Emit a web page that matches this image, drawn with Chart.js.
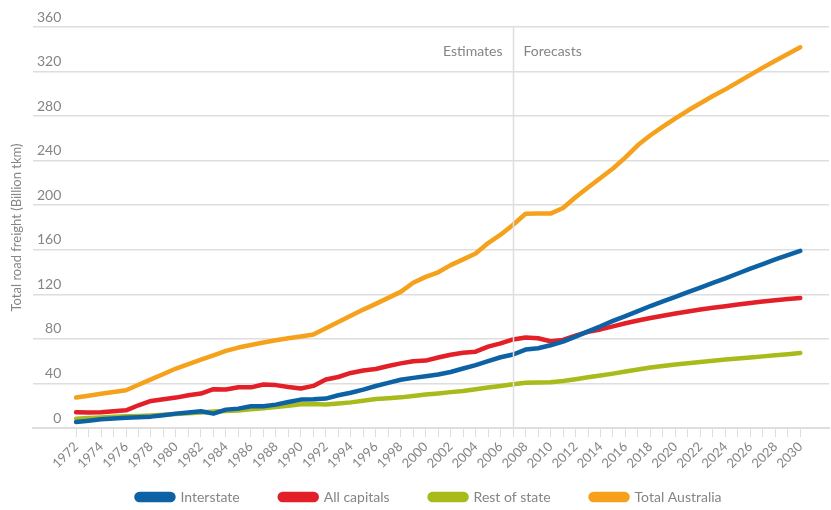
<!DOCTYPE html>
<html>
<head>
<meta charset="utf-8">
<script src="https://cdn.jsdelivr.net/npm/chart.js@4/dist/chart.umd.min.js"></script>
<style>
  html, body { margin: 0; padding: 0; background: #fff; }
  #wrap { width: 831px; height: 510px; }
</style>
</head>
<body>
<div id="wrap"><canvas id="chart"></canvas></div>
<script>
const years = [
  1972, 1973, 1974, 1975, 1976, 1977, 1978, 1979, 1980, 1981,
  1982, 1983, 1984, 1985, 1986, 1987, 1988, 1989, 1990, 1991,
  1992, 1993, 1994, 1995, 1996, 1997, 1998, 1999, 2000, 2001,
  2002, 2003, 2004, 2005, 2006, 2007, 2008, 2009, 2010, 2011,
  2012, 2013, 2014, 2015, 2016, 2017, 2018, 2019, 2020, 2021,
  2022, 2023, 2024, 2025, 2026, 2027, 2028, 2029, 2030,
];

const interstate = [
  5.4, 6.6, 7.8, 8.5, 9.3, 9.7, 10.2, 11.5, 12.9, 14,
  15, 12.9, 16.5, 17.4, 19.5, 19.5, 21, 23.4, 25.5, 25.8,
  26.4, 29.4, 31.6, 34.5, 37.7, 40.5, 43.3, 45, 46.5, 48,
  50.3, 53.4, 56.5, 60, 63.5, 66, 70.4, 71.6, 74.3, 77.6,
  82, 86.8, 91.3, 96.2, 100.5, 105, 109.5, 113.7, 117.7, 122,
  126.1, 130.2, 134.3, 138.7, 143.1, 147.2, 151.3, 155.2, 159,
];

const allCapitals = [
  14.1, 14, 14.2, 15, 15.9, 20.4, 24.3, 25.8, 27.3, 29.4,
  30.9, 34.8, 34.5, 36.6, 36.5, 39, 38.5, 36.8, 35.4, 37.8,
  43.5, 45.8, 49.4, 51.6, 53, 55.7, 58, 60, 60.5, 63.3,
  65.8, 67.5, 68.5, 73, 76, 79.5, 81.2, 80.6, 77.9, 79.1,
  83, 86.3, 88.5, 91.2, 94, 96.5, 98.8, 100.8, 102.8, 104.6,
  106.4, 107.9, 109.3, 110.8, 112.3, 113.5, 114.7, 115.8, 116.8,
];

const restOfState = [
  8.4, 9, 9.5, 10, 10.5, 10.8, 11.2, 11.8, 12.5, 13.2,
  14, 14.8, 15.2, 15.8, 16.8, 17.8, 18.9, 20, 21.3, 21.5,
  21, 22, 23, 24.5, 26, 26.8, 27.5, 28.8, 30, 31,
  32.2, 33.2, 34.8, 36.3, 37.7, 39.3, 40.6, 40.8, 41, 42.2,
  43.8, 45.6, 47.1, 48.8, 50.7, 52.5, 54.3, 55.7, 57, 58.2,
  59.3, 60.4, 61.4, 62.3, 63.2, 64.3, 65.3, 66.3, 67.4,
];

const totalAustralia = [
  27.3, 29, 30.7, 32.3, 33.9, 38.8, 43.7, 48.5, 53.4, 57.4,
  61.4, 65.3, 69.2, 72.2, 74.5, 76.8, 78.8, 80.6, 82.2, 84,
  89.6, 95.2, 100.8, 106.3, 111.4, 116.8, 122.2, 130.4, 135.7, 139.8,
  146.2, 151.4, 156.7, 166, 173.5, 182.5, 192.3, 192.5, 192.5, 197.5,
  207.2, 216, 224.5, 233, 243, 254, 262.8, 270.5, 278, 285,
  291.5, 298, 304, 310.5, 317, 323.5, 329.7, 335.8, 341.8,
];

const yTicks = [0, 40, 80, 120, 160, 200, 240, 280, 320, 360];
const splitYear = 2007;
const splitLabels = ['Estimates', 'Forecasts'];

const GREY_TEXT = '#858585';
const GRID = '#dedede';
const FONT = 'Lato, "Open Sans", sans-serif';
const LEGEND_Y = 497; // centre line of the legend row

function series(label, values, color) {
  return {
    label,
    data: values.map((v, i) => ({ x: years[i], y: v })),
    borderColor: color,
    backgroundColor: color,
    borderWidth: 4.5,
    borderCapStyle: 'round',
    borderJoinStyle: 'round',
    pointRadius: 0,
    tension: 0,
  };
}

// vertical divider + Estimates / Forecasts labels
const splitPlugin = {
  id: 'split',
  afterDatasetsDraw(chart) {
    const { ctx, chartArea, scales } = chart;
    const x = Math.round(scales.x.getPixelForValue(splitYear)) + 0.5;
    ctx.save();
    ctx.strokeStyle = GRID;
    ctx.lineWidth = 1.5;
    ctx.beginPath();
    ctx.moveTo(x, chartArea.top);
    ctx.lineTo(x, chartArea.bottom);
    ctx.stroke();
    ctx.font = `14px ${FONT}`;
    ctx.fillStyle = GREY_TEXT;
    ctx.textBaseline = 'middle';
    ctx.textAlign = 'right';
    ctx.fillText(splitLabels[0], x - 11, 51);
    ctx.textAlign = 'left';
    ctx.fillText(splitLabels[1], x + 10, 51);
    ctx.restore();
  },
};

// keep the wide legend spacing but let the row sit close under the year labels
const legendPlacePlugin = {
  id: 'legendPlace',
  beforeLayout(chart) {
    const lg = chart.legend;
    if (lg && !lg.patched) {
      const fit = lg.fit;
      lg.fit = function () {
        fit.call(this);
        this.height = 37;
      };
      lg.patched = true;
    }
  },
  afterLayout(chart) {
    const lg = chart.legend;
    const pad = lg.options.labels.padding;
    const size = lg.options.labels.font.size;
    lg.top = LEGEND_Y - pad - size / 2;
    lg.left += 29; // nudge the centred row right
  },
};

const ctx = document.getElementById('chart').getContext('2d');
new Chart(ctx, {
  type: 'line',
  data: {
    datasets: [
      series('Interstate', interstate, '#0d62a5'),
      series('All capitals', allCapitals, '#e31f28'),
      series('Rest of state', restOfState, '#a9bb1b'),
      series('Total Australia', totalAustralia, '#f6a11b'),
    ],
  },
  options: {
    responsive: true,
    maintainAspectRatio: false,
    animation: false,
    layout: { padding: { top: 27, right: 2, left: 0, bottom: 0 } },
    plugins: {
      tooltip: { enabled: false },
      legend: {
        position: 'bottom',
        labels: {
          boxWidth: 37,
          boxHeight: 6,
          useBorderRadius: true,
          borderRadius: 3,
          padding: 40,
          color: GREY_TEXT,
          font: { family: FONT, size: 14 },
        },
      },
    },
    scales: {
      x: {
        type: 'linear',
        min: 1968.55,
        max: 2032.3,
        afterBuildTicks: scale => {
          scale.ticks = years.map(v => ({ value: v }));
        },
        afterFit: scale => {
          scale.height = 45;
        },
        ticks: {
          autoSkip: false,
          maxRotation: 45,
          minRotation: 45,
          padding: 2,
          color: GREY_TEXT,
          font: { family: FONT, size: 13 },
          callback: v => (years.indexOf(v) % 2 === 0 ? String(v) : ''),
        },
        grid: {
          drawOnChartArea: false,
          drawTicks: true,
          tickLength: 9,
          color: GRID,
          lineWidth: 1,
        },
        border: { color: GRID, width: 2 },
      },
      y: {
        min: 0,
        max: 360,
        afterBuildTicks: scale => {
          scale.ticks = yTicks.map(v => ({ value: v }));
        },
        afterFit: scale => {
          scale.width = 33;
        },
        ticks: {
          mirror: true,
          crossAlign: 'far',
          padding: 4,
          labelOffset: -10,
          color: GREY_TEXT,
          font: { family: FONT, size: 14 },
        },
        grid: {
          drawTicks: false,
          color: GRID,
          lineWidth: 1.5,
        },
        border: { display: false },
        title: {
          display: true,
          text: 'Total road freight (Billion tkm)',
          color: GREY_TEXT,
          font: { family: FONT, size: 13 },
          padding: { top: 9, bottom: 0 },
        },
      },
    },
  },
  plugins: [splitPlugin, legendPlacePlugin],
});
</script>
</body>
</html>
